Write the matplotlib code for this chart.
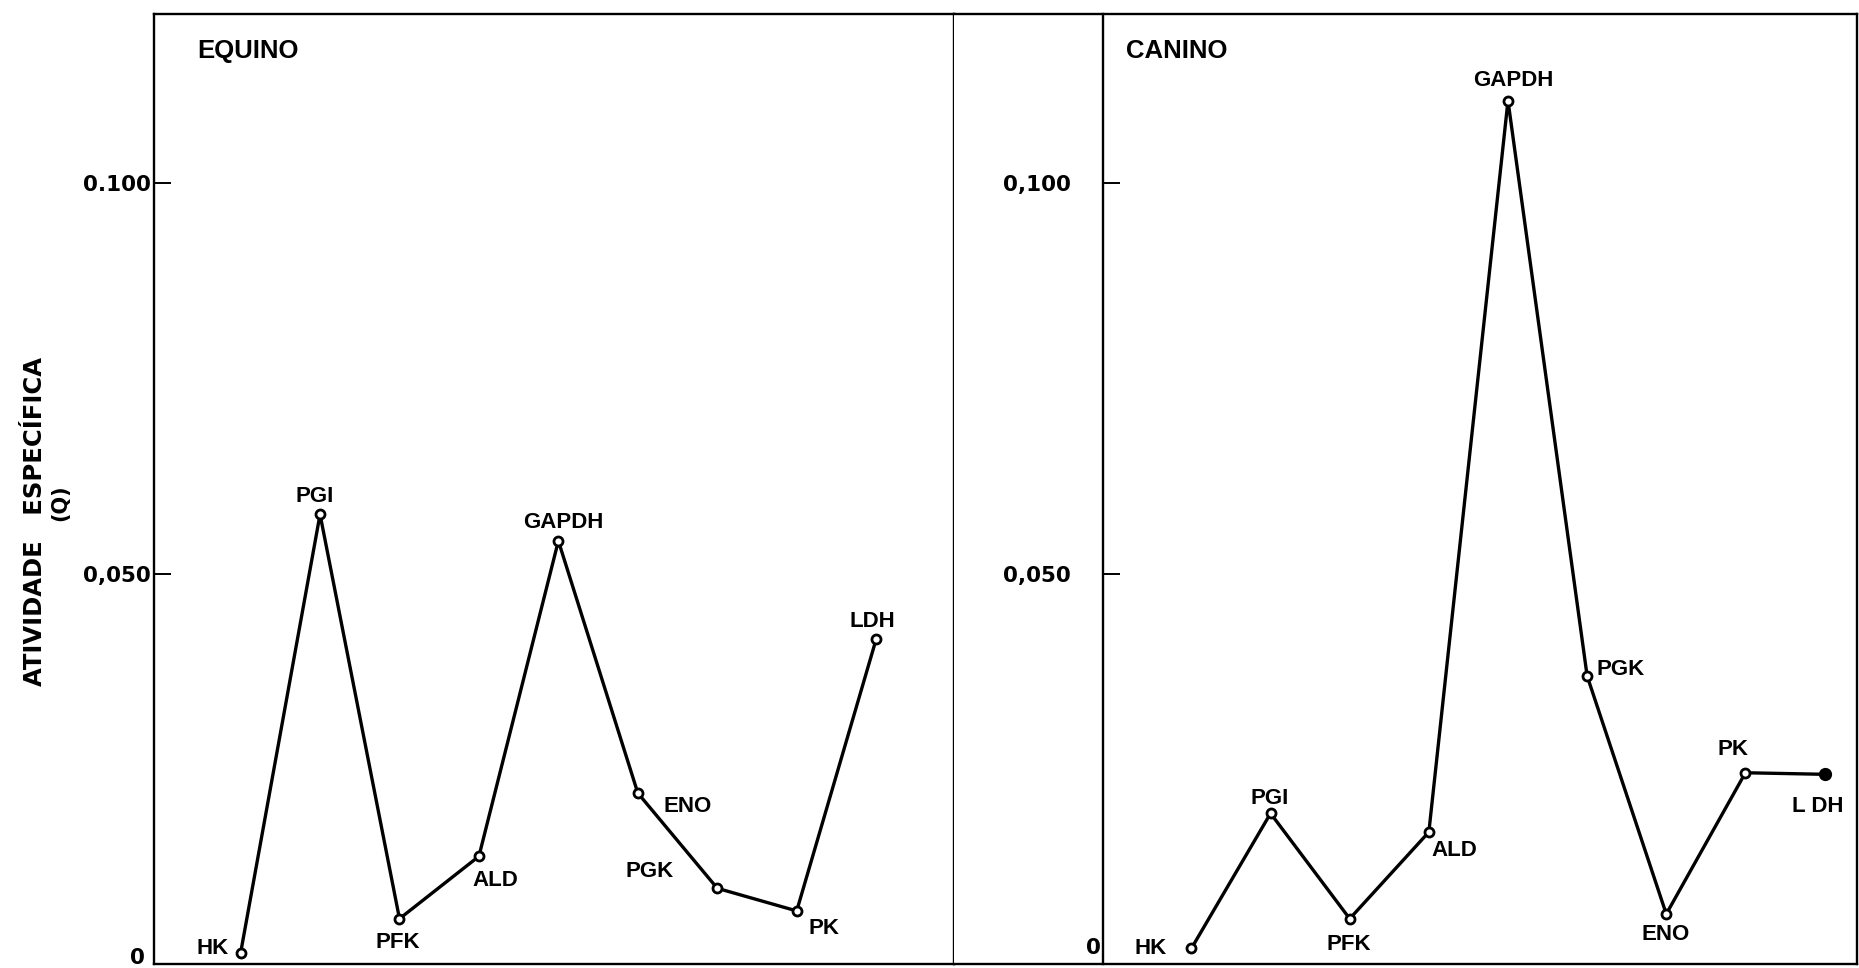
import matplotlib.pyplot as plt
import numpy as np

# atividade especifica (Q)
enzimas_equino = ["HK", "PGI", "PFK", "ALD", "GAPDH", "ENO", "PGK", "PK", "LDH"]
atividade_equino = [0.0014, 0.0576, 0.0058, 0.0138, 0.0542, 0.0219, 0.0097, 0.0068, 0.0416]

enzimas_canino = ["HK", "PGI", "PFK", "ALD", "GAPDH", "PGK", "ENO", "PK", "L DH"]
atividade_canino = [0.0020, 0.0193, 0.0058, 0.0169, 0.1106, 0.0369, 0.0064, 0.0245, 0.0243]

yticks = [0.05, 0.10]
ylabels_equino = ["0,050", "0.100"]
ylabels_canino = ["0,050", "0,100"]

# posicao dos rotulos em relacao ao ponto (pixels)
off_equino = [(-28, 5), (-5, 18), (-2, -24), (16, -24), (5, 18), (50, -13), (-68, 17), (27, -18), (-4, 18)]
off_canino = [(-41, 0), (-1, 15), (-1, -26), (25, -18), (5, 20), (33, 6), (-1, -20), (-12, 23), (-7, -32)]

letra = ['Liberation Sans', 'DejaVu Sans']
plt.rcParams['font.family'] = ['DejaVu Sans']
px2pt = 0.72

fig = plt.figure(figsize=(18.59, 9.68), dpi=100)
W, H = 1859., 968.
ax1 = fig.add_axes([154 / W, 4 / H, 800 / W, 950 / H])
ax2 = fig.add_axes([954 / W, 4 / H, 903 / W, 950 / H])


def painel(ax, nomes, vals, offs, labels, titulo, xlim, x_eixo, x_titulo, pad, zero_off):
    # set_position recria os ticks, entao vem primeiro
    ax.spines['left'].set_position(('axes', x_eixo))
    for s in ax.spines.values():
        s.set_linewidth(1.7)
    x = np.arange(len(vals))
    ax.plot(x, vals, '-', color='black', lw=2.4, zorder=2)
    ax.plot(x, vals, 'o', mfc='white', mec='black', ms=6.5, mew=2, zorder=3)
    for xi, v, n, (dx, dy) in zip(x, vals, nomes, offs):
        ax.annotate(n, (xi, v), xytext=(dx * px2pt, dy * px2pt), textcoords='offset points',
                    ha='center', va='center', fontsize=16, fontweight='bold', family=letra)
    ax.set_xlim(*xlim)
    ax.set_ylim(0, 0.1217)
    ax.set_xticks([])
    ax.set_yticks(yticks)
    ax.set_yticklabels(labels, fontweight='bold')
    ax.tick_params(axis='y', direction='in', length=12, width=1.4, pad=pad, labelsize=15.5)
    ax.text(x_titulo, 0.961, titulo, transform=ax.transAxes, fontsize=18.5, fontweight='bold',
            family=letra, ha='left', va='center')
    # o zero do eixo
    ax.annotate("0", (x_eixo, 0), xycoords=ax.get_yaxis_transform(),
                xytext=(zero_off[0] * px2pt, zero_off[1] * px2pt), textcoords='offset points',
                ha='right', va='center', fontsize=15.5, fontweight='bold')


painel(ax1, enzimas_equino, atividade_equino, off_equino, ylabels_equino, "EQUINO",
       (-1.09, 8.98), 0.0, 43 / 800, 2, (-9, 6))
painel(ax2, enzimas_canino, atividade_canino, off_canino, ylabels_canino, "CANINO",
       (-3.0, 8.41), 149 / 903, 172 / 903, 23, (-2, 16))
# ultimo ponto do canino cheio
ax2.plot([len(atividade_canino) - 1], [atividade_canino[-1]], 'o', color='black', ms=8.5, zorder=4)

fig.text(35.5 / W, 1 - 521 / H, "ATIVIDADE   ESPECÍFICA", rotation=90, ha='center', va='center',
         fontsize=17.5, fontweight='bold')
fig.text(60 / W, 1 - 503 / H, "(Q)", rotation=90, ha='center', va='center',
         fontsize=15, fontweight='bold')

fig.savefig('out.png', dpi=100)
